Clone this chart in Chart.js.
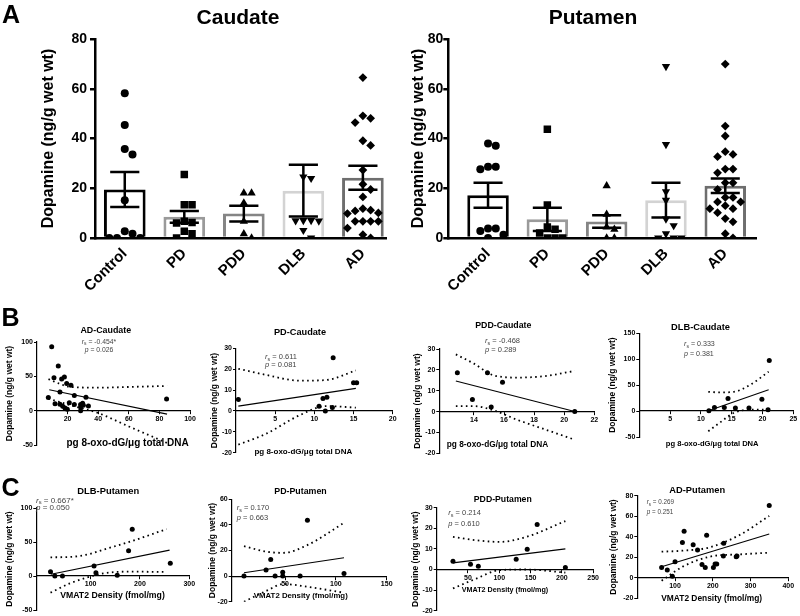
<!DOCTYPE html>
<html lang="en">
<head>
<meta charset="UTF-8">
<title>Dopamine in caudate and putamen</title>
<script src="https://cdn.jsdelivr.net/npm/chart.js"></script>
<style>
  body { margin: 0; background: #fff; }
  #fig { position: relative; width: 800px; height: 616px; overflow: hidden; font-family: 'Liberation Sans', Arial, sans-serif; color: #000; }
  #fig canvas { position: absolute; }
  .t { position: absolute; white-space: nowrap; line-height: 1; }
  .sub { font-size: 72%; position: relative; top: 0.3em; }
</style>
</head>
<body>
<div id="fig"></div>
<script>
// ---------- panel A: group bars ----------
const groups = ['Control', 'PD', 'PDD', 'DLB', 'AD'];
const yTicksA = [0, 20, 40, 60, 80];

const caudMean = [19.5, 8.5, 9.8, 19, 24.2];
const caudSem = [7, 2.4, 3.2, 10.4, 4.8];
const caudControl = [58.2, 45.4, 35.8, 33.6, 15.2, 2.7, 1.7, 0, 0, 0];
const caudPD = [25.5, 13.4, 13.4, 6.7, 6.2, 6, 2.7, 1.7, 0];
const caudPDD = [18.1, 18.1, 14.1, 6.7, 1.7, 0];
const caudDLB = [24.6, 24, 7.1, 7.1, 7, 6.9, 3.1, 0];
const caudAD = [64.5, 49.1, 48.1, 46.4, 39.1, 37.2, 27.3, 21.6, 19.5, 16.5, 11.8, 11.2, 10.9, 10.1, 9.8, 6.7, 6.7, 6.7, 6.7, 4, 1.3, 0];

const putMean = [17.2, 7.5, 6.6, 15.2, 21];
const putSem = [5, 4.7, 2.5, 7, 2.9];
const putControl = [38, 37.1, 28.6, 28.6, 27.6, 3.8, 3.8, 2.8, 1.3, 0];
const putPD = [43.7, 13.3, 4.4, 3.5, 2, 0, 0, 0];
const putPDD = [21, 9.5, 4.4, 3.5, 0, 0];
const putDLB = [69, 37.6, 18.6, 15.2, 7.7, 5, 1.7, 0, 0, 0];
const putAD = [69.9, 45, 41, 34.7, 33.6, 32.7, 27.7, 27.7, 26.2, 22.2, 22.2, 19.5, 16.3, 16.3, 14.5, 14.5, 13, 11.8, 11.8, 10.2, 7.8, 6.5, 1.7, 0];

// ---------- panels B and C: correlations ----------
const adCaudX = [9.6, 13.9, 11.1, 16.1, 17.9, 19.4, 22.2, 15, 24.4, 7.4, 32, 11.8, 15, 16.8, 18.3, 19.8, 21.1, 24.4, 28.5, 29.8, 28.5, 30.3, 33.6, 28.5, 84.7];
const adCaudY = [93, 65, 48, 46, 49, 39.5, 37, 27.3, 22, 19, 19.5, 10.2, 9.3, 6.3, 3.9, 2, 11.7, 8.8, 8.8, 10.7, 5.4, 7.8, 6.8, 0, 17];
const adCaudFitX = [8, 85];
const adCaudFitY = [30.5, -5];
const adCaudBandX = [7.5, 15, 22, 40, 60, 85];
const adCaudUp = [46, 39, 34.5, 33.5, 34.5, 36];
const adCaudLo = [17.6, 12.5, 7.8, -3.5, -23, -47];

const pdCaudX = [0.3, 10.6, 11.1, 11.6, 11.4, 12.3, 12.4, 15, 15.4];
const pdCaudY = [5.5, 2.3, 6, 6.5, 0, 1.6, 25.5, 13.5, 13.5];
const pdCaudFitX = [0.3, 15.3];
const pdCaudFitY = [2.3, 10.8];
const pdCaudBandX = [0.3, 3.8, 8.1, 11.5, 15.3];
const pdCaudUp = [20.2, 17.3, 14.5, 14.8, 19.4];
const pdCaudLo = [-16.1, -11, -2.1, 2.3, 1.6];

const pddCaudX = [12.9, 13.9, 14.9, 15.15, 15.9, 20.7];
const pddCaudY = [18.6, 5.8, 18.6, 2.2, 14.1, 0];
const pddCaudFitX = [12.8, 20.7];
const pddCaudFitY = [14.7, 0];
const pddCaudBandX = [12.8, 14, 15.3, 16.9, 18.7, 20.7];
const pddCaudUp = [27.4, 23, 17.4, 16.3, 17, 19.5];
const pddCaudLo = [2.6, 2.6, 0.6, -4, -8.5, -13.5];

const dlbCaudX = [11.3, 12.2, 13.8, 14.4, 15.6, 17.8, 19.9, 20.9, 21.1];
const dlbCaudY = [0.6, 7, 7, 24.4, 5.8, 5.8, 23, 2.6, 97.4];
const dlbCaudFitX = [11.1, 21];
const dlbCaudFitY = [0, 41];
const dlbCaudBandX = [11.2, 13, 15.3, 18, 21];
const dlbCaudUp = [37, 36, 37, 50.6, 76];
const dlbCaudLo = [-39, -23, -3.8, 2.6, 2.6];

const dlbPutX = [18.8, 27.6, 43, 107, 110.8, 154, 177, 184.4, 261.5];
const dlbPutY = [6.4, 0, 0, 14.7, 4.9, 1, 37.3, 68.6, 18.6];
const dlbPutFitX = [20, 260];
const dlbPutFitY = [2.5, 38];
const dlbPutBandX = [18.8, 58, 98.6, 125.6, 180, 254];
const dlbPutUp = [27.5, 28, 32.5, 38.7, 50.5, 69];
const dlbPutLo = [-24.5, -10.8, -1, 3.9, 6.4, 5.9];

const pdPutX = [9.6, 31.3, 35.9, 40.2, 47.7, 47.7, 64.8, 72, 108];
const pdPutY = [0, 4.7, 13, 0, 3.1, 0, 0, 43.6, 2.1];
const pdPutFitX = [9.6, 108];
const pdPutFitY = [2.6, 14.3];
const pdPutBandX = [9.6, 32, 48.3, 71.4, 108];
const pdPutUp = [23.4, 19, 18.2, 24, 41.6];
const pdPutLo = [-20, -11.4, -6.2, -8.3, -13];

const pddPutX = [26, 54, 66.5, 127, 144.6, 160.5, 205.6];
const pddPutY = [4, 2.6, 1.6, 5, 9.8, 21.8, 1];
const pddPutFitX = [26, 205.6];
const pddPutFitY = [3.2, 10];
const pddPutBandX = [26, 63.4, 100.5, 143, 205.6];
const pddPutUp = [15.8, 14.2, 13.4, 15.8, 23.5];
const pddPutLo = [-9.2, -4.4, -0.3, 0, -1.5];

const adPutX = [64.4, 79.4, 92.8, 100, 119.5, 124, 148, 159.6, 171.4, 180, 183.7, 201.6, 206, 210.4, 228, 229, 262, 264, 349.5];
const adPutY = [10.1, 7.5, 1.6, 15.6, 34.5, 45.3, 32.2, 27, 13, 10.1, 41.4, 10.1, 13.4, 13.4, 21.2, 33.6, 20.5, 21.2, 70.4];
const adPutFitX = [64.4, 349.5];
const adPutFitY = [10.7, 42.7];
const adPutBandX = [64.4, 119.5, 191, 271, 349.5];
const adPutUp = [25.4, 26.4, 29.6, 41.7, 60.3];
const adPutLo = [-2.9, 10.7, 20.5, 22.8, 24.4];

const fam = "'Liberation Sans', Arial, Helvetica, sans-serif";
Chart.defaults.font.family = fam;
const fig = document.getElementById('fig');

function makeCanvas(b) {
  const c = document.createElement('canvas');
  c.width = b.w; c.height = b.h;
  c.style.left = b.x + 'px'; c.style.top = b.y + 'px';
  fig.appendChild(c);
  return c;
}

function text(html, x, base, size, align, extra) {
  const d = document.createElement('div');
  d.className = 't';
  d.innerHTML = html;
  d.style.fontSize = size + 'px';
  d.style.left = x + 'px';
  d.style.top = (base - 0.85 * size) + 'px';
  if (align === 'center') d.style.transform = 'translateX(-50%)';
  if (extra) d.style.cssText += extra;
  fig.appendChild(d);
}

// simple beeswarm offsets so the dots of one group don't sit on each other
function swarm(vals, step, thr) {
  const idx = vals.map((v, i) => i).sort((a, b) => vals[b] - vals[a]);
  const placed = [], off = [];
  idx.forEach(i => {
    for (let k = 0; ; k++) {
      const o = (k % 2 ? 1 : -1) * Math.ceil(k / 2) * step;
      const hit = placed.some(p => Math.abs(p.v - vals[i]) < thr && Math.abs(p.o - o) < step * 0.99);
      if (!hit) { placed.push({v: vals[i], o: o}); off[i] = o; break; }
    }
  });
  return off;
}

const errorBars = {
  id: 'errorBars',
  afterDatasetsDraw(chart, args, opts) {
    const {ctx, scales: {x, y}} = chart;
    ctx.save();
    ctx.strokeStyle = '#000';
    ctx.lineWidth = 2.5;
    opts.mean.forEach((m, i) => {
      const cx = x.getPixelForValue(i);
      const hi = y.getPixelForValue(m + opts.sem[i]);
      const lo = y.getPixelForValue(m - opts.sem[i]);
      const w = x.getPixelForValue(i + opts.cap) - cx;
      ctx.beginPath();
      ctx.moveTo(cx, hi); ctx.lineTo(cx, lo);
      ctx.moveTo(cx - w, hi); ctx.lineTo(cx + w, hi);
      ctx.moveTo(cx - w, lo); ctx.lineTo(cx + w, lo);
      ctx.stroke();
    });
    ctx.restore();
  }
};

const barColors = ['#000000', '#9a9a9a', '#858585', '#d3d3d3', '#6e6e6e'];
const dotStyles = ['circle', 'rect', 'triangle', 'triangle', 'rectRot'];
const dotRot = [0, 0, 0, 180, 0];
const dotSize = [4, 5.3, 4.8, 4.8, 4.4];

function barPanel(o) {
  const cv = makeCanvas(o.box);
  const dots = o.points.map((vals, g) => {
    const off = swarm(vals, 0.13, 3.3);
    return {
      type: 'scatter', order: 0,
      data: vals.map((v, i) => ({x: g + off[i], y: v})),
      pointStyle: dotStyles[g], pointRotation: dotRot[g], pointRadius: dotSize[g],
      pointBackgroundColor: '#000', pointBorderWidth: 0
    };
  });
  new Chart(cv, {
    type: 'bar',
    data: {
      datasets: dots.concat([{
        type: 'bar', order: 10,
        data: o.mean.map((m, i) => ({x: i, y: m})),
        backgroundColor: '#fff', borderColor: barColors, borderWidth: 3,
        barPercentage: 0.7, categoryPercentage: 1
      }])
    },
    plugins: [errorBars],
    options: {
      responsive: false, animation: false,
      layout: {padding: {top: 39, right: o.padR, bottom: 0, left: 0}},
      plugins: {
        legend: {display: false}, tooltip: {enabled: false},
        errorBars: {mean: o.mean, sem: o.sem, cap: 0.245}
      },
      scales: {
        x: {
          type: 'linear', min: o.xMin, max: o.xMax, offset: false,
          afterBuildTicks: s => { s.ticks = groups.map((g, i) => ({value: i})); },
          afterFit: s => { s.height = 62; },
          grid: {drawOnChartArea: false, drawTicks: false, offset: false},
          border: {color: '#000', width: 2.5},
          ticks: {
            callback: v => groups[v], minRotation: 45, maxRotation: 45, autoSkip: false,
            font: {size: 15, weight: 'bold'}, color: '#000', padding: 7
          }
        },
        y: {
          min: 0, max: 80,
          afterBuildTicks: s => { s.ticks = yTicksA.map(v => ({value: v})); },
          afterFit: s => { s.width = o.yW; },
          grid: {drawOnChartArea: false, drawTicks: true, tickLength: 5, color: '#000', lineWidth: 2.5},
          border: {color: '#000', width: 2.5},
          ticks: {font: {size: 14, weight: 'bold'}, color: '#000', padding: o.tickPad},
          title: {
            display: true, text: 'Dopamine (ng/g wet wt)', color: '#000',
            font: {size: 16, weight: 'bold'}, padding: {top: o.titlePad, bottom: 0}
          }
        }
      }
    }
  });
  text(o.title, o.titleX, 24, 21, 'center', 'font-weight:bold');
}

barPanel({
  box: {x: 0, y: 0, w: 400, h: 300}, padR: 13.3, yW: 95, tickPad: 3, titlePad: 39,
  xMin: -0.5, xMax: 4.4, title: 'Caudate', titleX: 238,
  mean: caudMean, sem: caudSem, points: [caudControl, caudPD, caudPDD, caudDLB, caudAD]
});
barPanel({
  box: {x: 400, y: 0, w: 400, h: 300}, padR: 43.3, yW: 48.3, tickPad: 0, titlePad: 9.4,
  xMin: -0.67, xMax: 4.53, title: 'Putamen', titleX: 593,
  mean: putMean, sem: putSem, points: [putControl, putPD, putPDD, putDLB, putAD]
});

function scatterPanel(p) {
  const cv = makeCanvas(p.box);
  const pairs = (xs, ys) => xs.map((v, i) => ({x: v, y: ys[i]}));
  const dotted = {
    type: 'line', borderColor: '#000', borderWidth: 1.8, borderDash: [1.6, 3.4],
    pointRadius: 0, cubicInterpolationMode: 'monotone', fill: false
  };
  const a = p.area, b = p.box;
  new Chart(cv, {
    type: 'scatter',
    data: {
      datasets: [
        {data: pairs(p.x, p.y), pointRadius: 2.5, pointBackgroundColor: '#000', pointBorderWidth: 0},
        {type: 'line', data: pairs(p.fitX, p.fitY), borderColor: '#000', borderWidth: 1.1, pointRadius: 0},
        Object.assign({data: pairs(p.bandX, p.up)}, dotted),
        Object.assign({data: pairs(p.bandX, p.lo)}, dotted)
      ]
    },
    options: {
      responsive: false, animation: false,
      layout: {padding: {top: a.t - b.y, right: b.x + b.w - a.r, bottom: b.y + b.h - a.b, left: 0}},
      plugins: {legend: {display: false}, tooltip: {enabled: false}},
      scales: {
        x: {
          type: 'linear', position: {y: 0}, min: p.xr[0], max: p.xr[1],
          afterBuildTicks: s => { s.ticks = p.xt.map(v => ({value: v})); },
          grid: {drawOnChartArea: false, drawTicks: true, tickLength: 3, color: '#000', lineWidth: 1},
          border: {color: '#000', width: 1.2},
          ticks: {font: {size: 7, weight: 'bold'}, color: '#000', padding: 1, maxRotation: 0}
        },
        y: {
          min: p.yr[0], max: p.yr[1],
          afterBuildTicks: s => { s.ticks = p.yt.map(v => ({value: v})); },
          afterFit: s => { s.width = a.l - b.x; },
          grid: {drawOnChartArea: false, drawTicks: true, tickLength: 3, color: '#000', lineWidth: 1},
          border: {color: '#000', width: 1.2},
          ticks: {font: {size: 7, weight: 'bold'}, color: '#000', padding: 1},
          title: {
            display: true, text: 'Dopamine (ng/g wet wt)', color: '#000',
            font: {size: 8.5, weight: 'bold'}, padding: {top: p.yTitleX - b.x - 5.1, bottom: 0}
          }
        }
      }
    }
  });
  text(p.title, p.title_[0], p.title_[1], p.title_[2], 'center', 'font-weight:bold');
  const st = p.stats;
  text('<i>r</i><span class="sub">s</span> = ' + p.rs, st[0], st[1], st[3], st[4], 'color:#444');
  text('<i>p</i> = ' + p.pv, st[0], st[2], st[3], st[4], 'color:#444');
  text(p.xTitle, p.xt_[0], p.xt_[1], p.xt_[2], 'center', 'font-weight:bold');
}

const dnaTitle = 'pg 8-oxo-dG/\u03bcg total DNA';
const vmatTitle = 'VMAT2 Density (fmol/mg)';

scatterPanel({
  box: {x: 0, y: 300, w: 200, h: 160}, area: {l: 37, t: 342, r: 190, b: 445},
  xr: [0, 100], yr: [-50, 100], xt: [20, 40, 60, 80, 100], yt: [-50, 0, 50, 100],
  x: adCaudX, y: adCaudY, fitX: adCaudFitX, fitY: adCaudFitY, bandX: adCaudBandX, up: adCaudUp, lo: adCaudLo,
  yTitleX: 10, title: 'AD-Caudate', title_: [105.8, 333.3, 8.9],
  rs: '-0.454*', pv: '0.026', stats: [99, 344.3, 352.3, 6.8, 'center'],
  xTitle: dnaTitle, xt_: [127.5, 446.7, 10]
});
scatterPanel({
  box: {x: 200, y: 300, w: 200, h: 160}, area: {l: 236, t: 348.3, r: 392.7, b: 452.7},
  xr: [0, 20], yr: [-20, 30], xt: [5, 10, 15, 20], yt: [-20, -10, 0, 10, 20, 30],
  x: pdCaudX, y: pdCaudY, fitX: pdCaudFitX, fitY: pdCaudFitY, bandX: pdCaudBandX, up: pdCaudUp, lo: pdCaudLo,
  yTitleX: 215, title: 'PD-Caudate', title_: [300, 336, 9.2],
  rs: '0.611', pv: '0.081', stats: [265, 359.3, 367.3, 7.5, 'left'],
  xTitle: dnaTitle, xt_: [303.3, 455, 8]
});
scatterPanel({
  box: {x: 400, y: 300, w: 200, h: 160}, area: {l: 439.3, t: 349, r: 594.3, b: 453.3},
  xr: [11.7, 22], yr: [-20, 30], xt: [14, 16, 18, 20, 22], yt: [-20, -10, 0, 10, 20, 30],
  x: pddCaudX, y: pddCaudY, fitX: pddCaudFitX, fitY: pddCaudFitY, bandX: pddCaudBandX, up: pddCaudUp, lo: pddCaudLo,
  yTitleX: 417.5, title: 'PDD-Caudate', title_: [503.3, 328.3, 8.8],
  rs: '-0.468', pv: '0.289', stats: [485, 343.3, 352.7, 7.5, 'left'],
  xTitle: dnaTitle, xt_: [497.5, 446.7, 8.3]
});
scatterPanel({
  box: {x: 600, y: 300, w: 200, h: 160}, area: {l: 639.3, t: 333.3, r: 793.3, b: 437},
  xr: [0, 25], yr: [-50, 150], xt: [5, 10, 15, 20, 25], yt: [-50, 0, 50, 100, 150],
  x: dlbCaudX, y: dlbCaudY, fitX: dlbCaudFitX, fitY: dlbCaudFitY, bandX: dlbCaudBandX, up: dlbCaudUp, lo: dlbCaudLo,
  yTitleX: 613, title: 'DLB-Caudate', title_: [700.5, 330.7, 9.3],
  rs: '0.333', pv: '0.381', stats: [684, 347.3, 357.3, 7.1, 'left'],
  xTitle: dnaTitle, xt_: [712.2, 446.7, 7.6]
});
scatterPanel({
  box: {x: 0, y: 460, w: 200, h: 156}, area: {l: 36.3, t: 508, r: 189.3, b: 610},
  xr: [-10, 300], yr: [-50, 100], xt: [100, 200, 300], yt: [-50, 0, 50, 100],
  x: dlbPutX, y: dlbPutY, fitX: dlbPutFitX, fitY: dlbPutFitY, bandX: dlbPutBandX, up: dlbPutUp, lo: dlbPutLo,
  yTitleX: 10, title: 'DLB-Putamen', title_: [108.3, 494, 9.4],
  rs: '0.667*', pv: '0.050', stats: [36, 503.3, 510.7, 8, 'left'],
  xTitle: vmatTitle, xt_: [112.5, 598.3, 8.7]
});
scatterPanel({
  box: {x: 200, y: 460, w: 200, h: 156}, area: {l: 231.7, t: 499.3, r: 386.7, b: 601.7},
  xr: [-2.5, 150], yr: [-20, 60], xt: [50, 100, 150], yt: [-20, 0, 20, 40, 60],
  x: pdPutX, y: pdPutY, fitX: pdPutFitX, fitY: pdPutFitY, bandX: pdPutBandX, up: pdPutUp, lo: pdPutLo,
  yTitleX: 213, title: 'PD-Putamen', title_: [300.5, 494, 8.8],
  rs: '0.170', pv: '0.663', stats: [236.7, 510.7, 520.7, 7.5, 'left'],
  xTitle: vmatTitle, xt_: [300.8, 598.3, 7.8]
});
scatterPanel({
  box: {x: 400, y: 460, w: 200, h: 156}, area: {l: 436.7, t: 507.7, r: 594, b: 610.7},
  xr: [0, 250], yr: [-20, 30], xt: [50, 100, 150, 200, 250], yt: [-20, -10, 0, 10, 20, 30],
  x: pddPutX, y: pddPutY, fitX: pddPutFitX, fitY: pddPutFitY, bandX: pddPutBandX, up: pddPutUp, lo: pddPutLo,
  yTitleX: 416, title: 'PDD-Putamen', title_: [502.8, 502.7, 8.7],
  rs: '0.214', pv: '0.610', stats: [448.3, 515.3, 526, 7.5, 'left'],
  xTitle: vmatTitle, xt_: [505, 591.7, 7.2]
});
scatterPanel({
  box: {x: 600, y: 460, w: 200, h: 156}, area: {l: 637.3, t: 495.7, r: 788.3, b: 598.3},
  xr: [0, 400], yr: [-20, 80], xt: [100, 200, 300, 400], yt: [-20, 0, 20, 40, 60, 80],
  x: adPutX, y: adPutY, fitX: adPutFitX, fitY: adPutFitY, bandX: adPutBandX, up: adPutUp, lo: adPutLo,
  yTitleX: 614, title: 'AD-Putamen', title_: [697.2, 494, 9.3],
  rs: '0.269', pv: '0.251', stats: [646.7, 504.7, 514, 6.3, 'left'],
  xTitle: vmatTitle, xt_: [711.7, 600.7, 8.4]
});

// panel letters
text('A', 2, 23.3, 25, 'left', 'font-weight:bold');
text('B', 1.5, 326.7, 25, 'left', 'font-weight:bold');
text('C', 1.5, 496.3, 25, 'left', 'font-weight:bold');
</script>
</body>
</html>
